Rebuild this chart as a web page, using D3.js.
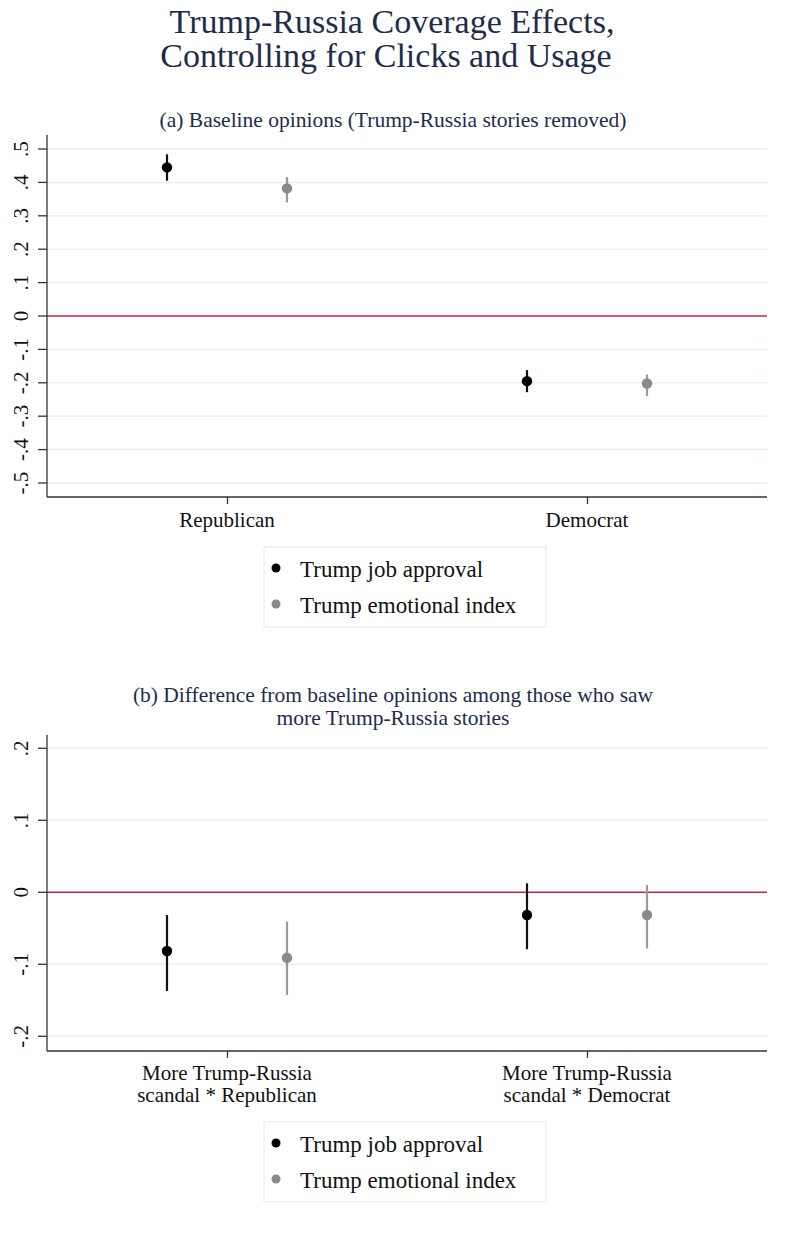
<!DOCTYPE html>
<html>
<head>
<meta charset="utf-8">
<script src="https://cdn.jsdelivr.net/npm/d3@7"></script>
<style>
  body { margin: 0; background: #fff; }
  text { font-family: "Liberation Serif", "Times New Roman", serif; }
</style>
</head>
<body>
<svg id="chart"></svg>
<script>
var width = 795, height = 1245;

// data
var series = ["Trump job approval", "Trump emotional index"];
var seriesColors = ["#000000", "#8a8a8a"];

var catsA = ["Republican", "Democrat"];
var estA = [[0.445, 0.382], [-0.195, -0.202]];
var loA  = [[0.405, 0.340], [-0.228, -0.239]];
var hiA  = [[0.484, 0.416], [-0.162, -0.175]];
var ticksA = [-0.5, -0.4, -0.3, -0.2, -0.1, 0, 0.1, 0.2, 0.3, 0.4, 0.5];

var catsB = [["More Trump-Russia", "scandal * Republican"], ["More Trump-Russia", "scandal * Democrat"]];
var estB = [[-0.0815, -0.091], [-0.0315, -0.0315]];
var loB  = [[-0.137, -0.1426], [-0.079, -0.078]];
var hiB  = [[-0.0315, -0.0408], [0.0125, 0.010]];
var ticksB = [-0.2, -0.1, 0, 0.1, 0.2];

var svg = d3.select("#chart").attr("width", width).attr("height", height);

var titleColor = "#1e2c4c";

svg.append("text").attr("x", 392).attr("y", 33).attr("text-anchor", "middle")
  .attr("font-size", 34).attr("fill", titleColor).text("Trump-Russia Coverage Effects,");
svg.append("text").attr("x", 386).attr("y", 67).attr("text-anchor", "middle")
  .attr("font-size", 34).attr("fill", titleColor).text("Controlling for Clicks and Usage");

function fmt(v) {
  if (v === 0) return "0";
  return d3.format(".1f")(v).replace("\u2212", "-").replace("0.", ".");
}

function drawPanel(opt) {
  var g = svg.append("g");
  var x = d3.scalePoint().domain(d3.range(opt.cats.length)).range([47, 767]).padding(0.5);
  var y = d3.scaleLinear().domain(opt.domain).range(opt.yRange);
  var off = 60;

  opt.subtitle.forEach(function(t, i) {
    g.append("text").attr("x", 393).attr("y", opt.subY + i * 23).attr("text-anchor", "middle")
      .attr("font-size", 21.5).attr("fill", titleColor).text(t);
  });

  // gridlines
  g.selectAll(".grid").data(opt.ticks.filter(function(d) { return d !== 0; })).enter()
    .append("line")
    .attr("x1", 47).attr("x2", 767)
    .attr("y1", function(d) { return y(d); }).attr("y2", function(d) { return y(d); })
    .attr("stroke", "#e9f0f2").attr("stroke-width", 1.5);

  // zero line
  g.append("line").attr("x1", 47).attr("x2", 767).attr("y1", y(0)).attr("y2", y(0))
    .attr("stroke", "#d11f4a").attr("stroke-width", 1.5);

  // y axis
  var yAxis = d3.axisLeft(y).tickValues(opt.ticks).tickFormat(fmt).tickSize(9).tickPadding(4);
  var ya = g.append("g").attr("transform", "translate(47,0)").call(yAxis);
  ya.select(".domain").attr("d", "M0," + opt.axisTop + "V" + opt.axisBottom).attr("stroke", "#333").attr("stroke-width", 1.3);
  ya.selectAll(".tick line").attr("stroke", "#333").attr("stroke-width", 1.3);
  ya.selectAll(".tick text")
    .attr("font-family", "Liberation Serif, serif").attr("font-size", 21).attr("fill", "#111")
    .attr("text-anchor", "middle").attr("dy", null)
    .attr("transform", function(d) { return "translate(-26," + y(d) + ") rotate(-90)"; })
    .attr("x", 0).attr("y", 7);
  ya.selectAll(".tick").attr("transform", null);
  ya.selectAll(".tick line").attr("y1", function(d) { return y(d); }).attr("y2", function(d) { return y(d); });

  // x axis
  var xAxis = d3.axisBottom(x).tickSize(7).tickFormat("");
  var xa = g.append("g").attr("transform", "translate(0," + opt.axisBottom + ")").call(xAxis);
  xa.select(".domain").attr("d", "M47,0H767").attr("stroke", "#333").attr("stroke-width", 1.3);
  xa.selectAll(".tick line").attr("stroke", "#333").attr("stroke-width", 1.3);

  opt.cats.forEach(function(c, i) {
    var lines = Array.isArray(c) ? c : [c];
    lines.forEach(function(t, j) {
      g.append("text").attr("x", x(i)).attr("y", opt.axisBottom + opt.labelDy + j * 22)
        .attr("text-anchor", "middle").attr("font-size", 21).attr("fill", "#111").text(t);
    });
  });

  // error bars and points
  series.forEach(function(s, k) {
    var dx = k === 0 ? -off : off;
    var data = opt.cats.map(function(c, i) {
      return { x: x(i) + dx, est: opt.est[i][k], lo: opt.lo[i][k], hi: opt.hi[i][k] };
    });
    g.selectAll(".bar" + k).data(data).enter().append("line")
      .attr("x1", function(d) { return d.x; }).attr("x2", function(d) { return d.x; })
      .attr("y1", function(d) { return y(d.lo); }).attr("y2", function(d) { return y(d.hi); })
      .attr("stroke", k === 0 ? "#111" : "#9a9a9a").attr("stroke-width", 2.2);
    g.selectAll(".pt" + k).data(data).enter().append("circle")
      .attr("cx", function(d) { return d.x; }).attr("cy", function(d) { return y(d.est); })
      .attr("r", 5.2).attr("fill", seriesColors[k]);
  });

  // legend
  var lg = g.append("g").attr("transform", "translate(264," + opt.legendY + ")");
  lg.append("rect").attr("x", 0).attr("y", 0).attr("width", 282).attr("height", 80)
    .attr("fill", "#fff").attr("stroke", "#e6edef").attr("stroke-width", 1.2);
  series.forEach(function(s, k) {
    lg.append("circle").attr("cx", 12).attr("cy", 21 + k * 36).attr("r", 4.5).attr("fill", seriesColors[k]);
    lg.append("text").attr("x", 36).attr("y", 30 + k * 36).attr("font-size", 23).attr("fill", "#111").text(s);
  });
}

drawPanel({
  subtitle: ["(a) Baseline opinions (Trump-Russia stories removed)"],
  subY: 127,
  cats: catsA, est: estA, lo: loA, hi: hiA,
  ticks: ticksA,
  domain: [0, 0.1], yRange: [316, 282.6],
  axisTop: 135, axisBottom: 497,
  labelDy: 30,
  legendY: 547
});

drawPanel({
  subtitle: ["(b) Difference from baseline opinions among those who saw", "more Trump-Russia stories"],
  subY: 702,
  cats: catsB, est: estB, lo: loB, hi: hiB,
  ticks: ticksB,
  domain: [0, 0.1], yRange: [892.3, 820.3],
  axisTop: 735, axisBottom: 1051,
  labelDy: 29,
  legendY: 1122
});
</script>
</body>
</html>
